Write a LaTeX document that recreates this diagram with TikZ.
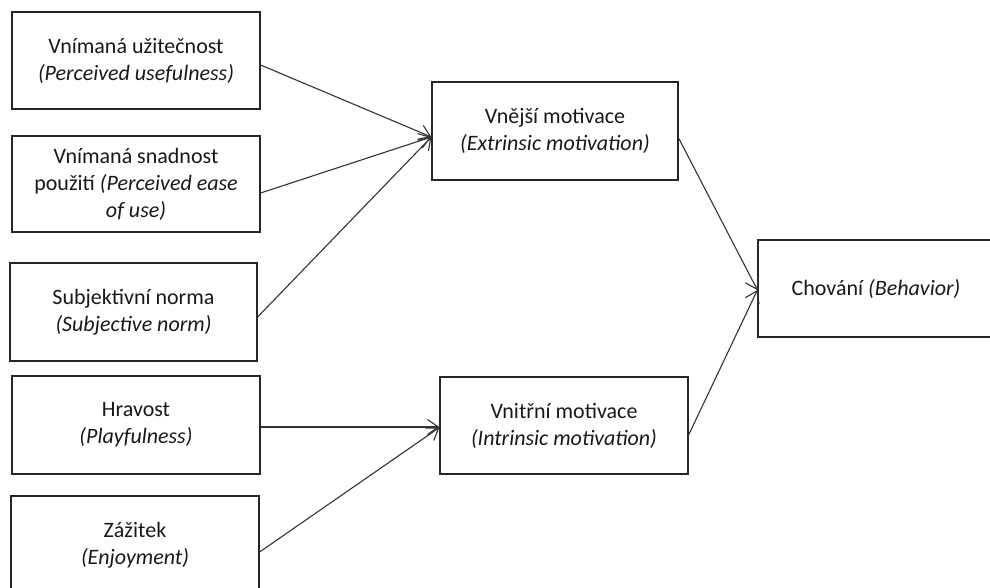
\documentclass[tikz,border=0pt]{standalone}
\usepackage{fontspec}
\setmainfont{Carlito}
\usetikzlibrary{arrows.meta,calc}
\begin{document}
\begin{tikzpicture}[x=1pt,y=-1pt,
  box/.style={draw=black!85, line width=1.2pt, minimum width=248pt, minimum height=97pt,
    align=center, inner sep=0pt, text=black!90, font=\fontsize{22}{27}\selectfont},
  link/.style={draw=black!80, line width=1.1pt, -{Straight Barb[length=11pt,width=15pt]}}]
\useasboundingbox (0,0) rectangle (990,587);

% predictor boxes on the left
\node[box] (pu)  at (136,60.5) {Vnímaná užitečnost\\\textit{(Perceived usefulness)}};
\node[box, minimum height=96pt] (peu) at (136,184) {Vnímaná snadnost\\použití \textit{(Perceived ease}\\\textit{of use)}};
\node[box, minimum width=247pt, minimum height=98pt] (sn) at (133.5,312) {Subjektivní norma\\\textit{(Subjective norm)}};
\node[box, minimum height=98pt] (pl) at (136,425) {Hravost\\\textit{(Playfulness)}};
\node[box, minimum height=98pt] (en) at (135,545) {Zážitek\\\textit{(Enjoyment)}};

% motivation boxes
\node[box, minimum width=246pt, minimum height=98pt] (ext) at (555,131) {Vnější motivace\\\textit{(Extrinsic motivation)}};
\node[box] (int) at (564,425.5) {Vnitřní motivace\\\textit{(Intrinsic motivation)}};

% outcome
\node[box, minimum width=236pt] (beh) at (876,288.5) {Chování \textit{(Behavior)}};

% connectors
\draw[link] ($(pu.east)+(0,4.5)$) -- ($(ext.west)+(0,6)$);
\draw[link] ($(peu.east)+(0,9)$) -- ($(ext.west)+(0,6)$);
\draw[link] ($(sn.east)+(0,5)$) -- ($(ext.west)+(0,6)$);
\draw[link] ($(pl.east)+(0,2)$) -- ($(int.west)+(0,1.5)$);
\draw[link] ($(en.east)+(0,7)$) -- ($(int.west)+(0,2)$);
\draw[link] ($(ext.east)+(0,7)$) -- ($(beh.west)+(0,1.5)$);
\draw[link] ($(int.east)+(0,9.5)$) -- ($(beh.west)+(0,1.5)$);
\end{tikzpicture}
\end{document}
